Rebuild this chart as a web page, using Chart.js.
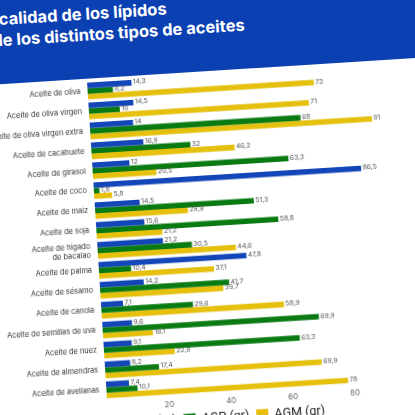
<!DOCTYPE html>
<html>
<head>
<meta charset="utf-8">
<script src="https://cdn.jsdelivr.net/npm/chart.js@4"></script>
<style>
  html, body { margin: 0; padding: 0; width: 415px; height: 415px; overflow: hidden; background: #fff; }
  #stage { position: absolute; left: -48px; top: 6px; width: 520px; height: 480px;
           transform-origin: 0 0; transform: rotate(-3.6deg); }
  #cabecera { position: absolute; left: -60px; top: -60px; width: 640px; height: 141px; background: #0b40b2; }
  #cabecera div { position: absolute; color: #fff; font-family: Inter, sans-serif; font-weight: 700;
                  font-size: 16.5px; line-height: 20px; white-space: nowrap; }
  #wrap { position: absolute; left: 0; top: 72px; width: 478px; height: 378px; }
</style>
</head>
<body>
<div id="stage">
  <div id="cabecera">
    <div style="left:83px; top:66px;">La calidad de los lípidos</div>
    <div style="left:98px; top:87px;">de los distintos tipos de aceites</div>
  </div>
  <div id="wrap"><canvas id="myChart"></canvas></div>
</div>
<script>
// datos
const aceites = [
  'Aceite de oliva', 'Aceite de oliva virgen', 'Aceite de oliva virgen extra',
  'Aceite de cacahuete', 'Aceite de girasol', 'Aceite de coco', 'Aceite de maiz',
  'Aceite de soja', ['Aceite de hígado', 'de bacalao'], 'Aceite de palma',
  'Aceite de sésamo', 'Aceite de canola', 'Aceite de semillas de uva',
  'Aceite de nuez', 'Aceite de almendras', 'Aceite de avellanas'
];
const ags = [14.3, 14.5, 14, 16.9, 12, 86.5, 14.5, 15.6, 21.2, 47.8, 14.2, 7.1, 9.6, 9.1, 8.2, 7.4];
const agp = [8.2, 10, 68, 32, 63.3, 1.8, 51.3, 58.8, 30.5, 10.4, 41.7, 29.6, 69.9, 63.3, 17.4, 10.1];
const agm = [73, 71, 91, 46.2, 20.5, 5.8, 29.9, 21.2, 44.6, 37.1, 39.7, 58.9, 16.1, 22.8, 69.9, 78];
const ticksX = [20, 40, 60, 80];

// etiquetas de valor al final de cada barra
const etiquetas = {
  id: 'etiquetas',
  afterDatasetsDraw(chart) {
    const ctx = chart.ctx;
    ctx.save();
    ctx.font = '6.8px Inter';
    ctx.fillStyle = '#555';
    ctx.textBaseline = 'middle';
    ctx.textAlign = 'left';
    chart.data.datasets.forEach((ds, i) => {
      chart.getDatasetMeta(i).data.forEach((bar, j) => {
        const txt = String(ds.data[j]).replace('.', ',');
        ctx.fillText(txt, bar.x + 1.5, bar.y - 0.5);
      });
    });
    ctx.restore();
  }
};

// la leyenda va casi pegada a los ticks y algo desplazada a la derecha
const moverLeyenda = {
  id: 'moverLeyenda',
  afterLayout(chart) {
    const lg = chart.legend;
    lg.top -= 6;
    lg.bottom -= 6;
    lg.left += 20;
    lg.right += 20;
  }
};

Chart.defaults.font.family = 'Inter';

new Chart(document.getElementById('myChart').getContext('2d'), {
  type: 'bar',
  data: {
    labels: aceites,
    datasets: [
      { label: 'AGS (gr)', data: ags, backgroundColor: '#1346b8' },
      { label: 'AGP (gr)', data: agp, backgroundColor: '#0a7a12' },
      { label: 'AGM (gr)', data: agm, backgroundColor: '#e5c00c' }
    ]
  },
  options: {
    indexAxis: 'y',
    responsive: true,
    maintainAspectRatio: false,
    animation: false,
    categoryPercentage: 0.835,
    barPercentage: 1.0,
    layout: { padding: { top: 4, left: 0, right: 38, bottom: 0 } },
    plugins: {
      legend: {
        position: 'bottom',
        labels: { boxWidth: 12, boxHeight: 12, color: '#222', font: { size: 12.5, family: 'Roboto' }, padding: 7 }
      },
      tooltip: { enabled: false }
    },
    scales: {
      x: {
        min: 0,
        max: 100,
        afterBuildTicks: (scale) => { scale.ticks = ticksX.map(v => ({ value: v })); },
        grid: { display: false, drawTicks: false },
        border: { display: false },
        ticks: { color: '#666', font: { size: 8 }, padding: 4 }
      },
      y: {
        afterFit: (scale) => { scale.width = 130; },
        grid: { display: false, drawTicks: false },
        border: { display: false },
        ticks: { color: '#333', font: { size: 7.4 }, padding: 7, autoSkip: false }
      }
    }
  },
  plugins: [etiquetas, moverLeyenda]
});
</script>
</body>
</html>
